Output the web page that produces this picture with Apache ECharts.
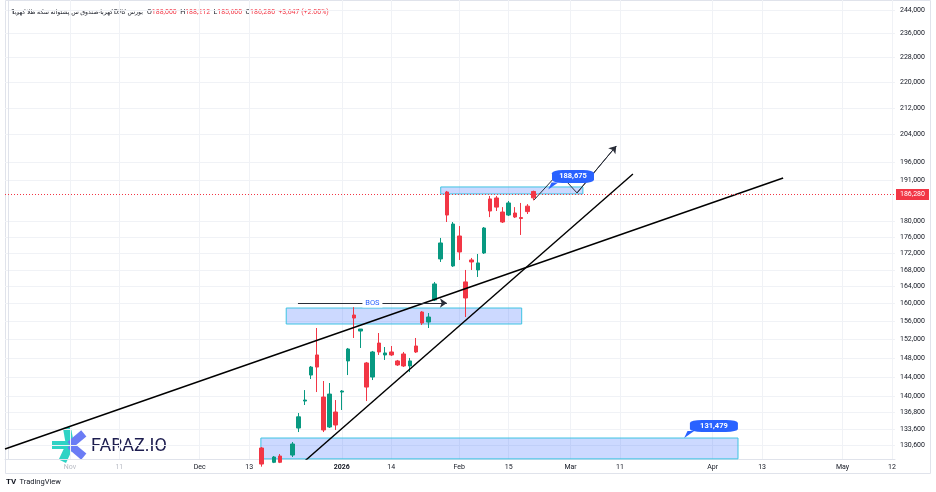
<!DOCTYPE html>
<html>
<head>
<meta charset="utf-8">
<title>کهربا 1D</title>
<script src="https://cdn.jsdelivr.net/npm/echarts@6/dist/echarts.min.js"></script>
<style>
  html, body { margin: 0; padding: 0; background: #fff; }
  #chart { width: 936px; height: 492px; }
</style>
</head>
<body>
<div id="chart"></div>
<script>
// daily candles, the first one drawn sits in slot 41 of the time scale
const firstSlot = 41;
const opens  = [130040, 127000, 127400, 128550, 127080, 128730, 133830, 139120, 144410, 148640,
                139920, 134020, 136940, 140930, 147370, 157420, 153840, 146940, 144000, 151210,
                148640, 149280, 147370, 148850, 146310, 150570, 158100, 155840, 160850, 170630,
                187860, 168920, 176350, 165090, 170380, 167950, 172100, 185990, 186250, 182530,
                181740, 182270, 181090, 184080, 188000];
const highs  = [130220, 127400, 128550, 128920, 127780, 131170, 136740, 141330, 146290, 154510,
                143180, 142770, 139320, 141330, 150140, 159220, 154280, 147150, 149500, 153400,
                150350, 150570, 147580, 149280, 148000, 152310, 158320, 157870, 165080, 175850,
                188140, 179930, 178890, 167950, 170870, 171850, 178640, 186790, 186790, 183820,
                185450, 183820, 184920, 184610, 188212];
const lows   = [126600, 125600, 127250, 127250, 126800, 128370, 133060, 138330, 143590, 140930,
                133060, 133830, 133450, 137340, 144410, 152310, 150140, 139120, 143380, 148640,
                147580, 148430, 146310, 146100, 145030, 149070, 155180, 154510, 160620, 169890,
                179930, 168680, 170380, 156970, 167950, 166270, 171850, 181200, 182790, 179670,
                181480, 180960, 176610, 182010, 185600];
const closes = [127080, 126000, 128370, 127400, 127400, 130790, 136000, 139320, 146080, 146080,
                133450, 140520, 134410, 141130, 149920, 156740, 154280, 141940, 149280, 149280,
                149070, 148640, 146520, 146310, 147370, 149280, 155620, 156970, 164610, 174590,
                181740, 179410, 172350, 161320, 169890, 169650, 178380, 182790, 183820, 179930,
                184920, 181220, 180830, 182633, 186280];

const priceTicks = [244000, 236000, 228000, 220000, 212000, 204000, 196000, 191000, 180000, 176000,
                    172000, 168000, 164000, 160000, 156000, 152000, 148000, 144000, 140000, 136800,
                    133600, 130600];
const timeSlots  = [10, 18, 31, 39, 54, 62, 73, 81, 91, 99, 114, 122, 135, 143];
const timeLabels = ['Nov', '11', 'Dec', '13', '2026', '14', 'Feb', '15', 'Mar', '11', 'Apr', '13', 'May', '12'];

// drawings, as [slot, price]
const longTrend  = [[-0.5, 129850], [125.4, 191670]];
const steepTrend = [[48.0, 127630], [101.1, 192780]];
const swingPath  = [[85.1, 185720], [89.1, 193070], [92.05, 187600], [98.4, 200700]];
const bosLine    = [[46.9, 160160], [71.0, 160160]];
const zones = [
    [[45.0, 159010], [83.1, 155400]],
    [[70.0, 189220], [93.0, 187330]],
    [[40.9, 131920], [118.1, 128030]]
];
const tagTexts  = ['188,675', '131,479'];
const tagPoints = [[91.4, 192100], [114.2, 134220]];
const tagTails  = [[88.2, 189490], [110.2, 132590]];

const symbolName = 'کهربا-صندوق س.پشتوانه سکه طلا کهربا';
const exchangeName = 'بورس کالا';

const lg = Math.log;
const fmt = n => Math.round(n).toLocaleString('en-US');
const yMin = 11.759809;
const yMax = 12.419292;
const up = '#089981';
const down = '#f23645';
const blue = '#2962ff';
const font = 'Roboto, "DejaVu Sans", sans-serif';

const last = opens.length - 1;
const change = closes[last] - closes[last - 1];
const pct = change / closes[last - 1] * 100;

const candles = opens.map((o, i) => [firstSlot + i, lg(o), lg(closes[i]), lg(lows[i]), lg(highs[i])]);
const toXY = p => [p[0], lg(p[1])];

// header pieces are placed one by one so the persian and latin runs keep their order
const headerText = (txt, x, align, size) => ({
    type: 'text',
    silent: true,
    style: {
        x: x,
        y: 12,
        text: txt,
        align: align,
        verticalAlign: 'middle',
        fill: '#131722',
        fontSize: size,
        fontFamily: font
    }
});

const myChart = echarts.init(document.getElementById('chart'), null, { renderer: 'canvas' });

const option = {
    animation: false,
    backgroundColor: '#fff',
    grid: { left: 5, right: 41, top: 0, bottom: 33 },
    xAxis: {
        type: 'value',
        min: -0.5,
        max: 143.5,
        axisLine: { show: true, lineStyle: { color: '#e0e3eb' } },
        axisTick: { show: false, customValues: timeSlots },
        splitLine: { show: true, lineStyle: { color: '#f0f2f6', width: 1 } },
        axisLabel: {
            customValues: timeSlots,
            margin: 5,
            fontSize: 7,
            fontFamily: font,
            color: '#131722',
            formatter: v => {
                const idx = timeSlots.indexOf(Math.round(v));
                const txt = idx >= 0 ? timeLabels[idx] : '';
                if (idx < 2) return '{f|' + txt + '}';
                if (txt === '2026') return '{b|' + txt + '}';
                return txt;
            },
            rich: {
                f: { color: '#b8bbc4', fontSize: 7, fontFamily: font },
                b: { color: '#131722', fontSize: 7, fontWeight: 'bold', fontFamily: font }
            }
        }
    },
    yAxis: {
        type: 'value',
        position: 'right',
        min: yMin,
        max: yMax,
        axisLine: { show: true, lineStyle: { color: '#e0e3eb' } },
        axisTick: { show: false, customValues: priceTicks.map(lg) },
        splitLine: { show: true, lineStyle: { color: '#f0f2f6', width: 1 } },
        axisLabel: {
            customValues: priceTicks.map(lg),
            margin: 5,
            fontSize: 7,
            fontFamily: font,
            color: '#131722',
            formatter: v => fmt(Math.round(Math.exp(v) / 100) * 100)
        }
    },
    series: [
        {
            // boxes
            type: 'line',
            data: [],
            z: 1,
            markArea: {
                silent: true,
                itemStyle: { color: 'rgba(41,98,255,0.24)', borderColor: '#3ec3e2', borderWidth: 1 },
                data: zones.map(z => [{ coord: toXY(z[0]) }, { coord: toXY(z[1]) }])
            }
        },
        {
            type: 'candlestick',
            z: 2,
            barWidth: 4,
            encode: { x: 0, y: [1, 2, 3, 4] },
            data: candles,
            itemStyle: {
                color: up,
                color0: down,
                borderColor: up,
                borderColor0: down,
                borderWidth: 1
            },
            markLine: {
                silent: true,
                symbol: 'none',
                data: [{ yAxis: lg(closes[last]) }],
                lineStyle: { color: down, type: [1, 2], width: 1 },
                label: {
                    position: 'end',
                    distance: 1,
                    formatter: fmt(closes[last]),
                    backgroundColor: down,
                    color: '#fff',
                    padding: [2, 4],
                    fontSize: 7,
                    fontFamily: font
                }
            }
        },
        {
            type: 'line',
            z: 3,
            symbol: 'none',
            data: longTrend.map(toXY),
            lineStyle: { color: '#000', width: 1.4 }
        },
        {
            type: 'line',
            z: 3,
            symbol: 'none',
            data: steepTrend.map(toXY),
            lineStyle: { color: '#000', width: 1.4 }
        },
        {
            type: 'line',
            z: 4,
            symbol: 'none',
            data: swingPath.map(toXY),
            lineStyle: { color: '#2a2e39', width: 1 },
            markLine: {
                silent: true,
                symbol: ['none', 'arrow'],
                symbolSize: 7,
                lineStyle: { color: '#2a2e39', width: 1, type: 'solid' },
                label: { show: false },
                data: [
                    [{ coord: toXY(swingPath[2]) }, { coord: toXY(swingPath[3]) }],
                    [{ coord: toXY(bosLine[0]) }, { coord: toXY(bosLine[1]) }]
                ]
            },
            markPoint: {
                silent: true,
                data: [
                    {
                        coord: [(bosLine[0][0] + bosLine[1][0]) / 2, lg(bosLine[0][1])],
                        symbol: 'rect',
                        symbolSize: [20, 9],
                        itemStyle: { color: '#fff' },
                        label: { show: true, formatter: 'BOS', color: blue, fontSize: 7.5, fontFamily: font }
                    },
                    ...tagTails.map(p => ({
                        coord: toXY(p),
                        symbol: 'path://M4,0 L12,0 L0,8 Z',
                        symbolSize: [10, 7],
                        itemStyle: { color: blue },
                        label: { show: false }
                    })),
                    ...tagPoints.map((p, i) => ({
                        coord: toXY(p),
                        symbol: 'roundRect',
                        symbolSize: i === 0 ? [42, 13] : [48, 12],
                        itemStyle: { color: blue },
                        label: {
                            show: true,
                            formatter: tagTexts[i],
                            color: '#fff',
                            fontSize: 7.5,
                            fontWeight: 'bold',
                            fontFamily: font
                        }
                    }))
                ]
            }
        }
    ],
    graphic: [
        {
            type: 'rect',
            silent: true,
            shape: { x: 5.5, y: 0.5, width: 925, height: 473 },
            style: { fill: 'none', stroke: '#e0e3eb', lineWidth: 1 }
        },
        headerText('1', 11, 'left', 6.5),
        headerText('،', 16, 'left', 6.5),
        headerText(symbolName, 113, 'right', 6.2),
        headerText('D', 114, 'left', 6.5),
        headerText(',', 119, 'left', 6.5),
        headerText(exchangeName, 143, 'right', 6.2),
        {
            type: 'text',
            silent: true,
            style: {
                x: 147,
                y: 12,
                verticalAlign: 'middle',
                text: '{k|O}{v|' + fmt(opens[last]) + '} {k|H}{v|' + fmt(highs[last]) + '} {k|L}{v|' +
                      fmt(lows[last]) + '} {k|C}{v|' + fmt(closes[last]) + '} {v|+' + fmt(change) +
                      ' (+' + pct.toFixed(2) + '%)}',
                rich: {
                    k: { fill: '#131722', fontSize: 7, fontFamily: font },
                    v: { fill: down, fontSize: 7, fontFamily: font }
                }
            }
        },
        {
            // FARAZ.IO watermark
            type: 'group',
            silent: true,
            x: 70,
            y: 445,
            children: [
                { deg: 100, c: '#2fd3c5' }, { deg: 180, c: '#2fd3c5' }, { deg: 245, c: '#2fd3c5' },
                { deg: 40, c: '#6b7cf5' }, { deg: 320, c: '#6b7cf5' }
            ].map(a => ({
                type: 'rect',
                rotation: a.deg * Math.PI / 180,
                shape: { x: 0, y: -4, width: 18, height: 8 },
                style: { fill: a.c }
            }))
        },
        {
            type: 'text',
            silent: true,
            style: {
                x: 91,
                y: 446,
                verticalAlign: 'middle',
                text: 'FARAZ.IO',
                fill: '#1d1d4f',
                fontSize: 18,
                fontFamily: 'Roboto, sans-serif'
            }
        },
        {
            type: 'text',
            silent: true,
            style: {
                x: 6,
                y: 482,
                verticalAlign: 'middle',
                text: '{a|TV} {b|TradingView}',
                rich: {
                    a: { fontSize: 8, fontWeight: 'bold', fill: '#131722', fontFamily: font },
                    b: { fontSize: 7.5, fill: '#131722', fontFamily: font }
                }
            }
        }
    ]
};

myChart.setOption(option);
</script>
</body>
</html>
